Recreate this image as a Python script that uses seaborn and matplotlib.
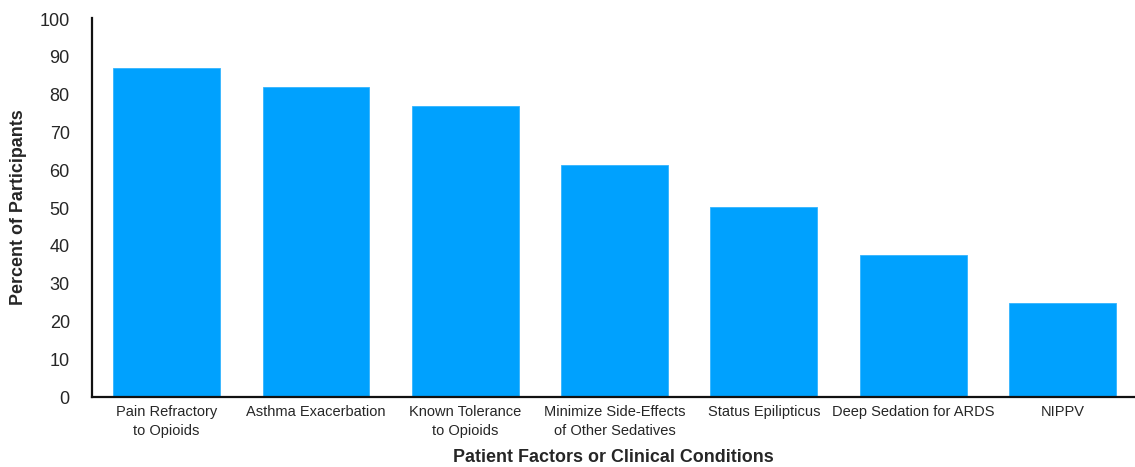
import matplotlib
matplotlib.use("Agg")
import matplotlib.pyplot as plt
import seaborn as sns
import pandas as pd

categories = [
    "Pain Refractory\nto Opioids",
    "Asthma Exacerbation",
    "Known Tolerance\nto Opioids",
    "Minimize Side-Effects\nof Other Sedatives",
    "Status Epilipticus",
    "Deep Sedation for ARDS",
    "NIPPV",
]
percent = [87, 82, 77, 61.3, 50.2, 37.5, 25]
y_ticks = list(range(0, 101, 10))

df = pd.DataFrame({"condition": categories, "percent": percent})

sns.set_style("white")
plt.rcParams["font.family"] = ["Liberation Sans", "DejaVu Sans"]

fig = plt.figure(figsize=(11.35, 4.67), dpi=100)
ax = fig.add_axes([92 / 1135, 70 / 467, (1135 - 92) / 1135, (397 - 18) / 467])

sns.barplot(data=df, x="condition", y="percent", color="#00A1FE",
            saturation=1, width=0.715, edgecolor="#33B4FF", linewidth=0.6, ax=ax)

ax.set_ylim(0, 100.3)
ax.set_xlim(-0.5, 6.486)
ax.set_yticks(y_ticks)
ax.set_yticklabels([str(t) for t in y_ticks], fontsize=13)
ax.tick_params(axis="y", length=0, pad=16)
ax.tick_params(axis="x", length=0, pad=6, labelsize=10.5)
for lbl in ax.get_xticklabels():
    lbl.set_linespacing(1.45)

for side in ["top", "right"]:
    ax.spines[side].set_visible(False)
for side in ["left", "bottom"]:
    ax.spines[side].set_color("#111111")
    ax.spines[side].set_linewidth(1.6)

ax.set_xlabel("Patient Factors or Clinical Conditions", fontsize=12.9,
              fontweight="bold", labelpad=8)
ax.set_ylabel("Percent of Participants", fontsize=12.9,
              fontweight="bold", labelpad=9)

fig.savefig("out.png", dpi=100)
